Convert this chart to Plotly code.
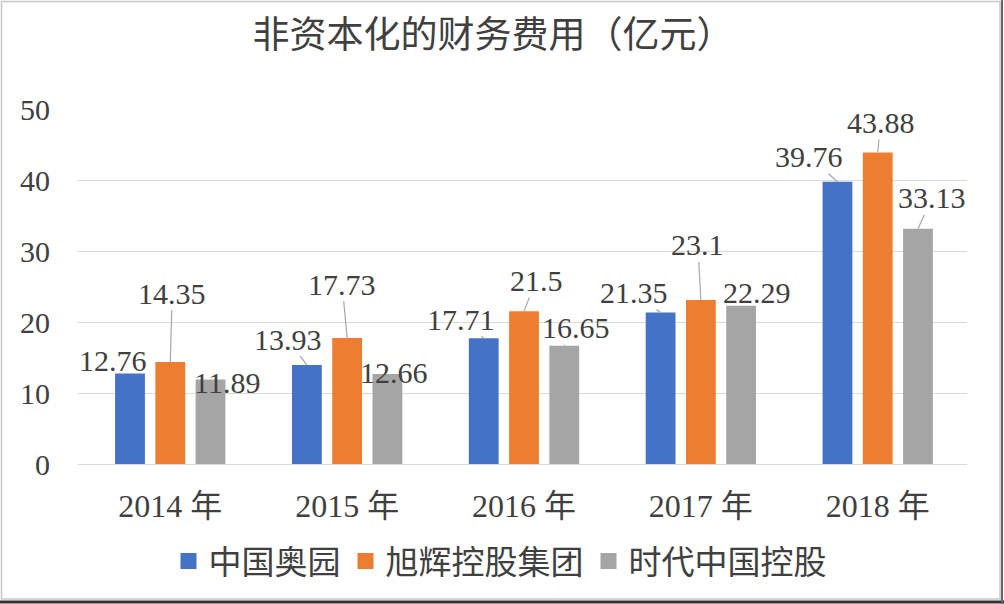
import plotly.graph_objects as go

# ---- data ----
years = ["2014 年", "2015 年", "2016 年", "2017 年", "2018 年"]
series_names = ["中国奥园", "旭辉控股集团", "时代中国控股"]
aoyuan = [12.76, 13.93, 17.71, 21.35, 39.76]
cifi = [14.35, 17.73, 21.50, 23.10, 43.88]
times_china = [11.89, 12.66, 16.65, 22.29, 33.13]
label_texts = [
    ["12.76", "13.93", "17.71", "21.35", "39.76"],
    ["14.35", "17.73", "21.5", "23.1", "43.88"],
    ["11.89", "12.66", "16.65", "22.29", "33.13"],
]
y_ticks = [0, 10, 20, 30, 40, 50]

# ---- styles / positions ----
colors = ["#4472C4", "#ED7D31", "#A5A5A5"]
# pixel offsets of each label centre from its bar top (series x year)
label_offsets = [
    [(-17, -13), (-19, -26), (-23, -19), (-27, -20), (-28, -25)],
    [(2, -69), (-5, -54), (12, -31), (-3, -55), (3, -30)],
    [(16, 3), (7, -2), (12, -18), (16, -13), (14, -31)],
]
W, H = 1004, 604
ML, MR, MT, MB = 78, 37, 109, 140
BARGAP = 0.317
BARGROUPGAP = 0.26
NUM_FONT = "Liberation Serif, Noto Sans CJK SC"
CJK_FONT = "Noto Sans CJK SC"
TXT = "#404040"

all_series = [aoyuan, cifi, times_china]

fig = go.Figure()
for name, vals, col in zip(series_names, all_series, colors):
    fig.add_trace(go.Bar(
        x=years, y=vals, name=name, legendgroup=name, showlegend=False,
        marker=dict(color=col, line=dict(width=0)),
        hoverinfo="x+y+name",
    ))
# legend entries with larger square swatches
for name, col in zip(series_names, colors):
    fig.add_trace(go.Scatter(
        x=[None], y=[None], name=name, legendgroup=name, mode="markers",
        marker=dict(symbol="square", size=20, color=col), showlegend=True,
    ))

slot = (1 - BARGAP) / len(all_series)
annotations = []
for s, (vals, texts, offs) in enumerate(zip(all_series, label_texts, label_offsets)):
    for i, (v, t, (dx, dy)) in enumerate(zip(vals, texts, offs)):
        annotations.append(dict(
            x=i + (s - 1) * slot, y=v, xref="x", yref="y",
            text=t, showarrow=True, arrowhead=0, arrowwidth=1.2,
            arrowcolor="#A6A6A6", standoff=0, ax=dx, ay=dy,
            font=dict(family=NUM_FONT, size=30, color=TXT),
            borderpad=0,
        ))

pw = W - ML - MR
ph = H - MT - MB


def px_x(p):
    return (p - ML) / pw


def px_y(p):
    return (H - MB - p) / ph


fig.update_layout(
    width=W, height=H,
    margin=dict(l=ML, r=MR, t=MT, b=MB, pad=0),
    paper_bgcolor="white", plot_bgcolor="white",
    barmode="group", bargap=BARGAP, bargroupgap=BARGROUPGAP,
    title=dict(text="非资本化的财务费用（亿元）", x=493 / W, xanchor="center",
               y=1 - 35 / H, yanchor="middle", yref="container", xref="container",
               font=dict(family=CJK_FONT, size=37, color=TXT)),
    xaxis=dict(showgrid=False, showline=False, ticks="", ticklabelstandoff=20,
               tickfont=dict(family=NUM_FONT, size=32, color=TXT)),
    yaxis=dict(range=[0, 50], tickvals=y_ticks, showgrid=True, gridcolor="#D9D9D9",
               gridwidth=1.3, zeroline=True, zerolinecolor="#D9D9D9", zerolinewidth=1.3,
               showline=False, ticks="", ticklabelstandoff=27,
               tickfont=dict(family=NUM_FONT, size=30, color=TXT)),
    legend=dict(orientation="h", x=px_x(500), xanchor="center",
                y=px_y(561), yanchor="middle",
                font=dict(family=CJK_FONT, size=33, color=TXT),
                bgcolor="rgba(0,0,0,0)"),
    annotations=annotations,
    showlegend=True,
)
# chart area border and screenshot edge
fig.add_shape(type="rect", xref="paper", yref="paper",
              x0=px_x(1.5), x1=px_x(1000), y0=px_y(599), y1=px_y(1.5),
              line=dict(color="#C8C8C8", width=1.5), fillcolor="rgba(0,0,0,0)", layer="below")
fig.add_shape(type="line", xref="paper", yref="paper",
              x0=px_x(0), x1=px_x(1004), y0=px_y(602), y1=px_y(602),
              line=dict(color="#333333", width=3))
fig.add_shape(type="line", xref="paper", yref="paper",
              x0=px_x(1002), x1=px_x(1002), y0=px_y(0), y1=px_y(604),
              line=dict(color="#666666", width=2))

fig.write_html("out.html")
